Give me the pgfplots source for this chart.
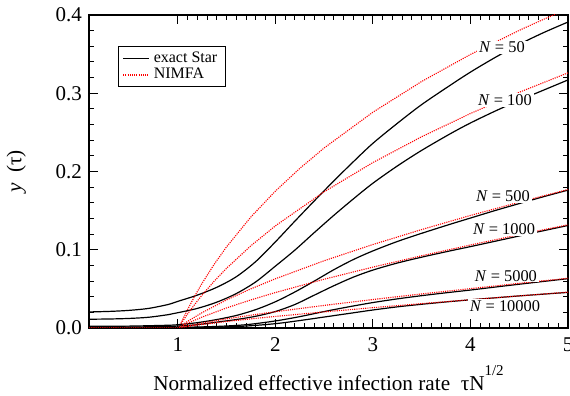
\documentclass[border=0pt]{standalone}
\usepackage{fontspec}
\setmainfont{Liberation Serif}
\newfontfamily\tfont{Liberation Serif}
\usepackage{pgfplots}
\pgfplotsset{compat=1.18}
\begin{document}
\begin{tikzpicture}
\begin{axis}[name=ax, scale only axis, width=239.5pt, height=156.5pt,
 xmin=0.09, xmax=5, ymin=0, ymax=0.4,
 xtick={1,2,3,4,5}, ytick={0,0.1,0.2,0.3,0.4},
 xticklabels={1,2,3,4,5},
 yticklabels={0.0,0.1,0.2,0.3,0.4},
 minor x tick num=9, minor y tick num=4,
 tick align=inside, tick pos=both,
 major tick length=4.5pt, minor tick length=2.5pt,
 every tick/.style={black, line width=0.5pt},
 axis line style={line width=0.6pt},
 ticklabel style={font=\tfont\fontsize{10.5}{12}\selectfont},
 x tick label style={yshift=-1.5pt},
 xlabel={Normalized effective infection rate\ \ τN\raisebox{0.72em}{\fontsize{7.5}{8}\selectfont 1/2}},
 ylabel={\textit{y}\ \ (τ)},
 label style={font=\tfont\fontsize{10.6}{12}\selectfont},
 xlabel style={at={(axis description cs:0.5,-0.2013)}, anchor=base},
 ylabel style={at={(axis description cs:-0.152,0.5)}, anchor=center},
 legend style={draw=black, line width=0.6pt, font=\tfont\fontsize{8}{9}\selectfont,
   at={(0.0605,0.901)}, anchor=north west, inner xsep=2pt, inner ysep=0.5pt, row sep=-2.5pt},
 legend cell align=left,
 legend image code/.code={\draw[#1] (0pt,0pt) -- (13pt,0pt);},
 exact/.style={black, line width=0.6pt, smooth},
 nimfa/.style={red, line width=0.55pt, dash pattern=on 0.55pt off 0.55pt},
]
% N = 50
\addplot[exact] coordinates {(0.09,0.0205)(0.3,0.0212)(0.5,0.0225)(0.7,0.0250)(0.9,0.0300)(1.0,0.0340)(1.2,0.0420)(1.4,0.0520)(1.6,0.0655)(1.8,0.0850)(2.0,0.1100)(2.2,0.1365)(2.4,0.1625)(2.6,0.1880)(2.8,0.2125)(3.0,0.2360)(3.25,0.2615)(3.5,0.2855)(3.79,0.3100)(4.0,0.3270)(4.25,0.3455)(4.5,0.3625)(4.75,0.3775)(5.0,0.3910)};
\addlegendentry{exact Star}
\addplot[nimfa] coordinates {(0.09,0)(1.0102,0)(1.05,0.01074)(1.1,0.02344)(1.175,0.04108)(1.25,0.05730)(1.375,0.08177)(1.5,0.10369)(1.75,0.14196)(2,0.17485)(2.25,0.20388)(2.5,0.23001)(3,0.27575)(3.5,0.31505)(4,0.34957)(4.5,0.38033)(4.75,0.39451)(5,0.40801)};
\addlegendentry{NIMFA}
% N = 100
\addplot[exact, forget plot] coordinates {(0.09,0.0112)(0.3,0.0115)(0.5,0.0122)(0.7,0.0137)(0.9,0.0170)(1.0,0.0195)(1.2,0.0250)(1.4,0.0330)(1.6,0.0440)(1.8,0.0590)(2.0,0.0790)(2.2,0.0995)(2.4,0.1220)(2.6,0.1440)(2.8,0.1650)(3.0,0.1850)(3.25,0.2070)(3.5,0.2270)(3.79,0.2480)(4.0,0.2620)(4.25,0.2770)(4.5,0.2910)(4.75,0.3040)(5.0,0.3170)};
\addplot[nimfa, forget plot] coordinates {(0.09,0)(1.005,0)(1.05,0.00865)(1.1,0.01772)(1.175,0.03041)(1.25,0.04216)(1.375,0.06007)(1.5,0.07632)(1.75,0.10515)(2,0.13045)(2.5,0.17406)(3,0.21141)(3.5,0.24442)(4,0.27410)(4.5,0.30120)(5,0.32607)};
% N = 500
\addplot[exact, forget plot] coordinates {(0.09,0.0021)(0.5,0.0024)(0.9,0.0035)(1.0,0.0042)(1.2,0.0068)(1.4,0.0108)(1.6,0.0160)(1.8,0.0235)(2.0,0.0335)(2.2,0.0460)(2.4,0.0600)(2.6,0.0745)(2.8,0.0875)(3.0,0.0985)(3.25,0.1105)(3.5,0.1210)(3.79,0.1325)(4.0,0.1405)(4.25,0.1500)(4.5,0.1590)(4.75,0.1678)(5.0,0.1762)};
\addplot[nimfa, forget plot] coordinates {(0.09,0)(1.001,0)(1.1,0.00837)(1.25,0.01965)(1.5,0.03588)(1.75,0.05005)(2,0.06288)(2.5,0.08592)(3,0.10666)(3.5,0.12582)(4,0.14381)(4.5,0.16081)(5,0.17698)};
% N = 1000
\addplot[exact, forget plot] coordinates {(0.09,0.0010)(0.5,0.0012)(0.9,0.0020)(1.0,0.0025)(1.2,0.0042)(1.4,0.0075)(1.6,0.0108)(1.8,0.0150)(2.0,0.0210)(2.2,0.0300)(2.4,0.0420)(2.6,0.0540)(2.8,0.0650)(3.0,0.0740)(3.25,0.0830)(3.5,0.0905)(3.79,0.0985)(4.0,0.1040)(4.35,0.1135)(4.68,0.1225)(5.0,0.1310)};
\addplot[nimfa, forget plot] coordinates {(0.09,0)(1.0005,0)(1.1,0.00597)(1.25,0.01400)(1.5,0.02566)(1.75,0.03592)(2,0.04529)(2.5,0.06230)(3,0.07781)(3.5,0.09232)(4,0.10608)(4.5,0.11924)(5,0.13188)};
% N = 5000
\addplot[exact, forget plot] coordinates {(0.09,0.0002)(0.5,0.0003)(1.0,0.0007)(1.4,0.0020)(1.7,0.0042)(2.0,0.0090)(2.25,0.0145)(2.5,0.0210)(2.75,0.0270)(3.0,0.0325)(3.25,0.0372)(3.5,0.0413)(3.75,0.0450)(4.0,0.0485)(4.3,0.0530)(4.7,0.0588)(5.0,0.0630)};
\addplot[nimfa, forget plot] coordinates {(0.09,0)(1.0001,0)(1.1,0.00269)(1.25,0.00632)(1.5,0.01165)(1.75,0.01639)(2,0.02077)(2.5,0.02884)(3,0.03635)(3.5,0.04349)(4,0.05037)(4.5,0.05706)(5,0.06358)};
% N = 10000
\addplot[exact, forget plot] coordinates {(0.09,0.0001)(0.5,0.0002)(1.0,0.0004)(1.4,0.0012)(1.7,0.0025)(2.0,0.0055)(2.25,0.0095)(2.5,0.0140)(2.75,0.0185)(3.0,0.0230)(3.25,0.0270)(3.5,0.0303)(3.75,0.0333)(4.0,0.0360)(4.5,0.0410)(5.0,0.0455)};
\addplot[nimfa, forget plot] coordinates {(0.09,0)(1.0,0)(1.1,0.00190)(1.25,0.00448)(1.5,0.00826)(1.75,0.01165)(2,0.01478)(2.5,0.02057)(3,0.02598)(3.5,0.03115)(4,0.03615)(4.5,0.04103)(5,0.04581)};
% labels
\begin{scope}[every node/.style={fill=white, inner xsep=1pt, inner ysep=0.5pt, font=\tfont\fontsize{8.2}{9}\selectfont}]
\node at (axis cs:4.323,0.359) {\textit{N} = 50};
\node at (axis cs:4.354,0.2914) {\textit{N} = 100};
\node at (axis cs:4.333,0.1687) {\textit{N} = 500};
\node at (axis cs:4.344,0.1265) {\textit{N} = 1000};
\node at (axis cs:4.364,0.0665) {\textit{N} = 5000};
\node at (axis cs:4.354,0.0281) {\textit{N} = 10000};
\end{scope}
\end{axis}
\pgfresetboundingbox
\path ([xshift=-44.5pt,yshift=-34pt]ax.south west) rectangle ([xshift=1pt,yshift=7.5pt]ax.north east);
\end{tikzpicture}
\end{document}
